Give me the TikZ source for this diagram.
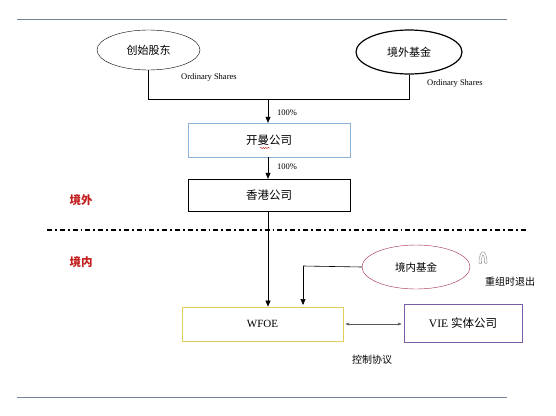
\documentclass[tikz,border=0pt]{standalone}
\usepackage{fontspec}
\setmainfont{Liberation Serif}
\newfontfamily\cjk{Noto Sans CJK SC}
\usetikzlibrary{arrows.meta,decorations.pathmorphing,shapes.geometric}
\definecolor{rulecol}{RGB}{118,130,152}
\definecolor{kmblue}{RGB}{140,178,218}
\definecolor{wfoeyel}{RGB}{228,206,90}
\definecolor{viepur}{RGB}{120,92,165}
\definecolor{fundred}{RGB}{165,45,70}
\definecolor{txtred}{RGB}{196,30,30}
\tikzset{
  ell/.style={draw, ellipse, inner sep=0pt, font=\cjk\fontsize{11}{12}\selectfont},
  cobox/.style={draw, rectangle, inner sep=0pt, font=\cjk\fontsize{11.5}{13}\selectfont},
  lbl/.style={font=\fontsize{8.5}{9}\selectfont, inner sep=0pt},
  pct/.style={font=\fontsize{8.5}{9}\selectfont, inner sep=0pt},
  zone/.style={font=\cjk\bfseries\fontsize{11.5}{12}\selectfont, text=txtred, inner sep=0pt},
  note/.style={font=\cjk\fontsize{10}{11}\selectfont, inner sep=0pt},
  conn/.style={draw, line width=0.6pt},
  arr/.style={conn, -{Triangle[length=6pt,width=5pt]}},
  rulel/.style={draw=rulecol, line width=0.9pt}
}
\begin{document}
\begin{tikzpicture}[x=1pt,y=-1pt]
\useasboundingbox[fill=white] (0,0) rectangle (556,415);
% frame rules
\coordinate (tl) at (17,19); \coordinate (tr) at (507,19);
\coordinate (bl) at (17,397); \coordinate (br) at (507,397);
\draw[rulel] (tl) -- (tr);
\draw[rulel] (bl) -- (br);
% top ellipses
\node[ell, minimum width=103pt, minimum height=40pt] (fs) at (148.5,50) {创始股东};
\node[ell, line width=1.2pt, minimum width=106pt, minimum height=44pt] (of) at (409,52) {境外基金};
\node[lbl, anchor=west] (os1) at (181,77) {Ordinary Shares};
\node[lbl, anchor=west] (os2) at (427,83) {Ordinary Shares};
% boxes
\node[cobox, draw=kmblue, minimum width=162pt, minimum height=34pt] (km) at (269,140) {开曼公司};
\node[cobox, minimum width=162pt, minimum height=32pt] (hk) at (269,195) {香港公司};
\node[cobox, draw=wfoeyel, line width=0.8pt, minimum width=161pt, minimum height=34pt, font=\fontsize{11}{12}\selectfont] (wf) at (262.5,324) {WFOE};
\node[cobox, draw=viepur, line width=0.8pt, minimum width=118pt, minimum height=38pt, font=\fontsize{11.5}{13}\selectfont] (vie) at (463,323) {VIE {\cjk 实体公司}};
% red spellcheck squiggle under 曼
\draw[txtred, line width=0.4pt, decorate, decoration={snake, amplitude=0.7pt, segment length=2.5pt}] ([xshift=-9pt,yshift=-8pt]km.center) -- ([xshift=1pt,yshift=-8pt]km.center);
% merge lines
\coordinate (j) at (268,99);
\draw[conn] (fs.south) |- (j);
\draw[conn] (of.south) |- (j);
\draw[arr] (j) -- (km.north -| j);
\node[pct, anchor=west] (p1) at (277,113) {100\%};
\draw[arr] (km.south -| j) -- (hk.north -| j);
\node[pct, anchor=west] (p2) at (277,167) {100\%};
% zones
\node[zone] (jw) at (81,200) {境外};
\coordinate (dl) at (47,230); \coordinate (dr) at (527,230);
\draw[line width=1.8pt, dash pattern=on 5pt off 3pt on 1.8pt off 3pt] (dl) -- (dr);
\node[zone] (jn) at (81,262) {境内};
% hk to wfoe
\draw[arr] (hk.south -| j) -- (wf.north -| j);
% domestic fund
\node[ell, draw=fundred, minimum width=108pt, minimum height=44pt, font=\cjk\fontsize{10.5}{12}\selectfont] (df) at (416,267) {境内基金};
\coordinate (dk) at (303,266);
\coordinate (dt) at (303,305);
\draw[conn] (df.west) -- (dk);
\draw[arr] (dk) -- (dt);
% exit icon
\draw[gray!70, line width=0.6pt] (479,263) .. controls (479,248) and (487,248) .. (487,263);
\draw[gray!70, line width=0.6pt] (481.5,263) .. controls (481.5,252) and (484.5,252) .. (484.5,263);
\draw[gray!50, line width=0.5pt] (479,263) -- (481.5,263) (484.5,263) -- (487,263);
\node[note] (rz) at (510,282) {重组时退出};
% control agreement
\draw[draw=gray!70!black, line width=0.5pt, {Stealth[length=4pt,width=3pt]}-{Stealth[length=4pt,width=3pt]}] ([xshift=2pt]wf.east) -- ([xshift=-2pt]vie.west |- wf.east);
\node[note] (kz) at (372,360) {控制协议};
\end{tikzpicture}
\end{document}
